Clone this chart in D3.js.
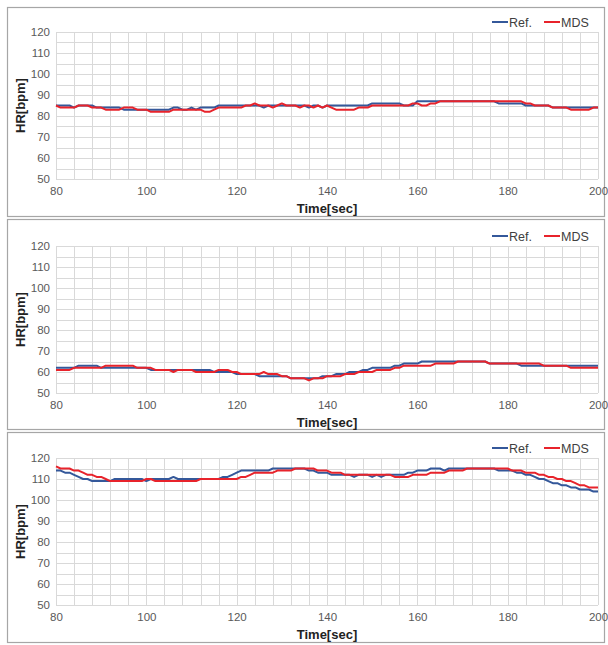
<!DOCTYPE html>
<html>
<head>
<meta charset="utf-8">
<script src="https://cdn.jsdelivr.net/npm/d3@7"></script>
<style>
  body { margin: 0; background: #fff; }
  svg { display: block; font-family: "Liberation Sans", Arial, sans-serif; }
</style>
</head>
<body>
<div id="chart"></div>
<script>
// chart size
var w = 608;
var h = 645;

// time axis: one sample per second, 80..200
var times = d3.range(80, 201);
var xTicks = [80, 100, 120, 140, 160, 180, 200];
var yTicks = [50, 60, 70, 80, 90, 100, 110, 120];
var seriesNames = ["Ref.", "MDS"];

// panel 1
var ref1 = [85,85,85,85,84,85,85,85,85,84,
            84,84,84,84,84,83,83,83,83,83,
            83,83,83,83,83,83,84,84,83,83,
            84,83,84,84,84,84,85,85,85,85,
            85,85,85,85,85,85,84,85,85,85,
            85,85,85,85,85,85,84,85,85,84,
            85,85,85,85,85,85,85,85,85,85,
            86,86,86,86,86,86,86,85,85,85,
            87,87,87,87,87,87,87,87,87,87,
            87,87,87,87,87,87,87,87,86,86,
            86,86,86,86,85,85,85,85,85,85,
            84,84,84,84,84,84,84,84,84,84,
            84];
var mds1 = [85,84,84,84,84,85,85,85,84,84,
            84,83,83,83,83,84,84,84,83,83,
            83,82,82,82,82,82,83,83,83,83,
            83,83,83,82,82,83,84,84,84,84,
            84,84,85,85,86,85,85,85,84,85,
            86,85,85,85,84,85,85,84,85,84,
            85,84,83,83,83,83,83,84,84,84,
            85,85,85,85,85,85,85,85,85,86,
            86,85,85,86,86,87,87,87,87,87,
            87,87,87,87,87,87,87,87,87,87,
            87,87,87,87,86,86,85,85,85,85,
            84,84,84,84,83,83,83,83,83,84,
            84];

// panel 2
var ref2 = [62,62,62,62,62,63,63,63,63,63,
            62,62,62,62,62,62,62,62,62,62,
            62,61,61,61,61,61,61,61,61,61,
            61,61,61,61,61,60,60,60,60,60,
            59,59,59,59,59,58,58,58,58,58,
            58,58,57,57,57,57,57,57,57,58,
            58,58,59,59,59,60,60,60,61,61,
            62,62,62,62,62,63,63,64,64,64,
            64,65,65,65,65,65,65,65,65,65,
            65,65,65,65,65,65,64,64,64,64,
            64,64,64,63,63,63,63,63,63,63,
            63,63,63,63,63,63,63,63,63,63,
            63];
var mds2 = [61,61,61,61,62,62,62,62,62,62,
            62,63,63,63,63,63,63,63,62,62,
            62,62,61,61,61,61,60,61,61,61,
            61,60,60,60,60,60,61,61,61,60,
            60,59,59,59,59,59,60,59,59,59,
            58,58,57,57,57,57,56,57,57,57,
            58,58,58,58,59,59,59,60,60,60,
            60,61,61,61,61,62,62,63,63,63,
            63,63,63,63,64,64,64,64,64,65,
            65,65,65,65,65,65,64,64,64,64,
            64,64,64,64,64,64,64,64,63,63,
            63,63,63,63,62,62,62,62,62,62,
            62];

// panel 3
var ref3 = [114,114,113,113,112,111,110,110,109,109,
            109,109,109,110,110,110,110,110,110,110,
            109,110,110,110,110,110,111,110,110,110,
            110,110,110,110,110,110,110,111,111,112,
            113,114,114,114,114,114,114,114,115,115,
            115,115,115,115,115,115,114,114,113,113,
            113,112,112,112,112,112,111,112,112,112,
            111,112,111,112,112,112,112,112,113,113,
            114,114,114,115,115,115,114,115,115,115,
            115,115,115,115,115,115,115,115,114,114,
            114,114,113,113,112,112,111,110,110,109,
            108,108,107,107,106,106,105,105,105,104,
            104];
var mds3 = [116,115,115,115,114,114,113,112,112,111,
            111,110,109,109,109,109,109,109,109,109,
            110,110,109,109,109,109,109,109,109,109,
            109,109,110,110,110,110,110,110,110,110,
            110,111,111,112,113,113,113,113,113,114,
            114,114,114,115,115,115,115,115,114,114,
            114,113,113,113,112,112,112,112,112,112,
            112,112,112,112,112,111,111,111,111,112,
            112,112,112,113,113,113,113,114,114,114,
            114,115,115,115,115,115,115,115,115,115,
            115,114,114,114,113,113,113,112,112,111,
            111,110,110,109,109,108,107,107,106,106,
            106];

var colors = { "Ref.": "#34589a", "MDS": "#e8232b" };

var svg = d3.select("#chart")
            .append("svg")
            .attr("width", w)
            .attr("height", h);

// plot area left/right is the same in every panel
var xScale = d3.scaleLinear().domain([80, 200]).range([56, 598]);

var panels = [
    { box: [7, 216], top: 32, ref: ref1, mds: mds1 },
    { box: [219, 429], top: 246, ref: ref2, mds: mds2 },
    { box: [432, 642], top: 458, ref: ref3, mds: mds3 }
];

panels.forEach(function(p) {
    var g = svg.append("g");
    var bottom = p.top + 147;

    // frame round each panel
    g.append("rect")
     .attr("x", 7.5).attr("y", p.box[0] + 0.5)
     .attr("width", 597).attr("height", p.box[1] - p.box[0])
     .attr("fill", "#fff")
     .attr("stroke", "#a6a6a6")
     .attr("stroke-width", 1.2);

    var yScale = d3.scaleLinear().domain([50, 120]).range([bottom, p.top]);

    // gridlines, every 4 sec and every 5 bpm
    g.append("g")
     .selectAll("line")
     .data(d3.range(80, 201, 4))
     .enter()
     .append("line")
     .attr("x1", function(d) { return Math.round(xScale(d)) + 0.5; })
     .attr("x2", function(d) { return Math.round(xScale(d)) + 0.5; })
     .attr("y1", p.top)
     .attr("y2", bottom)
     .attr("stroke", "#d9d9d9");

    g.append("g")
     .selectAll("line")
     .data(d3.range(50, 121, 5))
     .enter()
     .append("line")
     .attr("x1", xScale(80))
     .attr("x2", xScale(200))
     .attr("y1", function(d) { return Math.round(yScale(d)) + 0.5; })
     .attr("y2", function(d) { return Math.round(yScale(d)) + 0.5; })
     .attr("stroke", "#d9d9d9");

    // axes, only the labels are shown
    var yAxis = d3.axisLeft(yScale).tickValues(yTicks).tickSize(0).tickPadding(6);
    var gy = g.append("g").attr("transform", "translate(" + xScale(80) + ",0)").call(yAxis);
    var xAxis = d3.axisBottom(xScale).tickValues(xTicks).tickSize(0).tickPadding(8);
    var gx = g.append("g").attr("transform", "translate(0," + bottom + ")").call(xAxis);
    [gy, gx].forEach(function(a) {
        a.select(".domain").remove();
        a.selectAll("text")
         .attr("fill", "#595959")
         .style("font-size", "11.5px")
         .style("font-family", "'Liberation Sans', Arial, sans-serif");
    });

    // axis titles
    g.append("text")
     .attr("x", (xScale(80) + xScale(200)) / 2)
     .attr("y", bottom + 34)
     .attr("text-anchor", "middle")
     .attr("fill", "#222")
     .style("font-size", "13px")
     .style("font-weight", "bold")
     .text("Time[sec]");

    g.append("text")
     .attr("transform", "translate(25," + ((p.top + bottom) / 2) + ") rotate(-90)")
     .attr("text-anchor", "middle")
     .attr("fill", "#222")
     .style("font-size", "13px")
     .style("font-weight", "bold")
     .text("HR[bpm]");

    // lines
    var line = d3.line()
        .x(function(d, i) { return xScale(times[i]); })
        .y(function(d) { return yScale(d); });

    [["Ref.", p.ref], ["MDS", p.mds]].forEach(function(s) {
        g.append("path")
         .datum(s[1])
         .attr("d", line)
         .attr("fill", "none")
         .attr("stroke", colors[s[0]])
         .attr("stroke-width", 2)
         .attr("stroke-linejoin", "round");
    });

    // legend
    var lg = g.append("g").attr("transform", "translate(0," + (p.top - 10) + ")");
    var lx = [492, 544];
    seriesNames.forEach(function(n, i) {
        lg.append("line")
          .attr("x1", lx[i]).attr("x2", lx[i] + 16)
          .attr("y1", 0).attr("y2", 0)
          .attr("stroke", colors[n])
          .attr("stroke-width", 2);
        lg.append("text")
          .attr("x", lx[i] + 17)
          .attr("y", 4.5)
          .attr("fill", "#404040")
          .style("font-size", "12.5px")
          .text(n);
    });
});
</script>
</body>
</html>
